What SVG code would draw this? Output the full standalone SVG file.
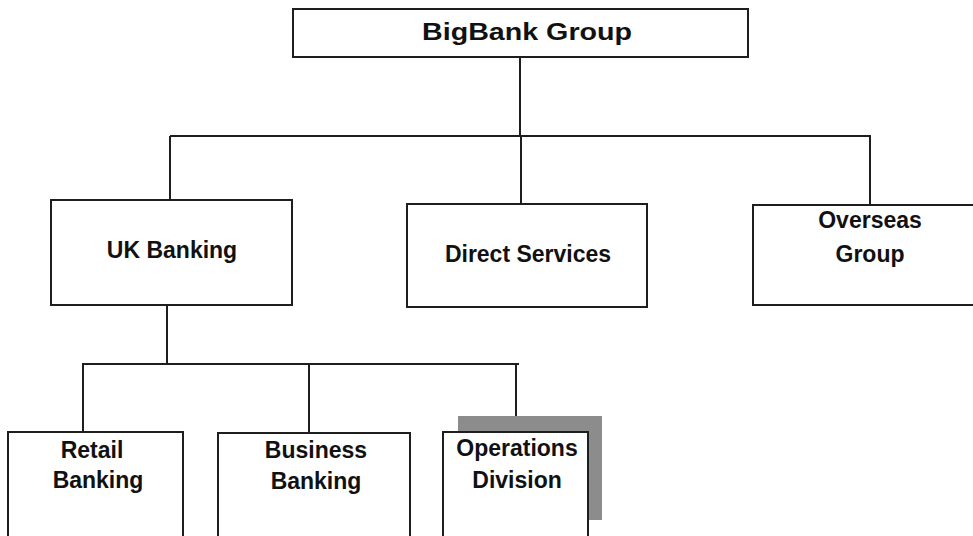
<svg xmlns="http://www.w3.org/2000/svg" width="973" height="536" viewBox="0 0 973 536">
<style>
.box{fill:#fff;stroke:#1e1e1e;stroke-width:2}
.lbl{font-family:"Liberation Sans",Arial,sans-serif;font-weight:bold;font-size:23px;fill:#111;text-anchor:middle}
.conn{fill:none;stroke:#1e1e1e;stroke-width:2}
</style>
<rect width="973" height="536" fill="#fff"/>
<g id="connectors">
<path class="conn" d="M520 58V136M170 136H871M170 136V200M521 136V204M870 136V205"/>
<path class="conn" d="M167 305V364M82 364H519M83 364V432M309 364V433M516 364V432"/>
</g>
<g id="bigbank">
<rect class="box" x="293" y="9" width="455" height="48"/>
<text class="lbl" x="527" y="40" font-size="27" textLength="210" lengthAdjust="spacingAndGlyphs">BigBank Group</text>
</g>
<g id="uk-banking">
<rect class="box" x="51" y="200" width="241" height="105"/>
<text class="lbl" x="172" y="258">UK Banking</text>
</g>
<g id="direct-services">
<rect class="box" x="407" y="204" width="240" height="103"/>
<text class="lbl" x="528" y="262">Direct Services</text>
</g>
<g id="overseas">
<rect class="box" x="753" y="205" width="240" height="100"/>
<text class="lbl" x="870" y="228">Overseas</text>
<text class="lbl" x="870" y="262">Group</text>
</g>
<g id="retail">
<rect class="box" x="8" y="432" width="175" height="110"/>
<text class="lbl" x="92" y="458">Retail</text>
<text class="lbl" x="98" y="488">Banking</text>
</g>
<g id="business">
<rect class="box" x="218" y="433" width="192" height="110"/>
<text class="lbl" x="316" y="458">Business</text>
<text class="lbl" x="316" y="489">Banking</text>
</g>
<g id="operations">
<rect x="458" y="416" width="144" height="104" fill="#8c8c8c"/>
<rect class="box" x="443" y="432" width="145" height="110"/>
<text class="lbl" x="517" y="456">Operations</text>
<text class="lbl" x="517" y="488">Division</text>
</g>
</svg>
